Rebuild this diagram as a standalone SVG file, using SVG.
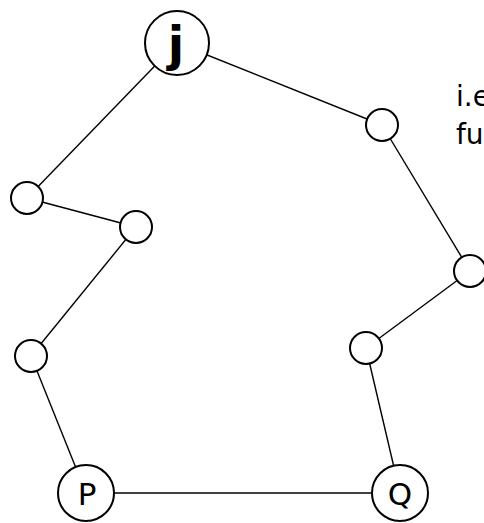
<svg xmlns="http://www.w3.org/2000/svg" width="484" height="523" viewBox="0 0 484 523">
<style>
.n{fill:#fff;stroke:#000;stroke-width:2}
.e{stroke:#000;stroke-width:1.4;fill:none}
.l{font-family:"DejaVu Sans","Liberation Sans",sans-serif;fill:#000;text-anchor:middle}
.t{font-family:"DejaVu Sans","Liberation Sans",sans-serif;fill:#000;font-size:28px}
</style>
<rect width="484" height="523" fill="#fff"/>
<g id="connectors">
<line class="e" x1="177" y1="43" x2="27" y2="198"/>
<line class="e" x1="177" y1="43" x2="382" y2="125"/>
<line class="e" x1="27" y1="198" x2="136" y2="227"/>
<line class="e" x1="136" y1="227" x2="31" y2="356"/>
<line class="e" x1="31" y1="356" x2="86" y2="493"/>
<line class="e" x1="86" y1="493" x2="400" y2="493"/>
<line class="e" x1="400" y1="493" x2="366" y2="348"/>
<line class="e" x1="366" y1="348" x2="470" y2="271"/>
<line class="e" x1="470" y1="271" x2="382" y2="125"/>
</g>
<g id="node-j"><circle class="n" cx="177" cy="43" r="32"/><text class="l" x="176" y="61" font-size="48" font-weight="600">j</text></g>
<g id="node-a"><circle class="n" cx="382" cy="125" r="16"/></g>
<g id="node-b"><circle class="n" cx="27" cy="198" r="16"/></g>
<g id="node-c"><circle class="n" cx="136" cy="227" r="16"/></g>
<g id="node-d"><circle class="n" cx="470" cy="271" r="16"/></g>
<g id="node-e"><circle class="n" cx="31" cy="356" r="16"/></g>
<g id="node-f"><circle class="n" cx="366" cy="348" r="16"/></g>
<g id="node-P"><circle class="n" cx="86" cy="493" r="28"/><text class="l" x="87" y="505" font-size="31">P</text></g>
<g id="node-Q"><circle class="n" cx="400" cy="493" r="28"/><text class="l" x="400" y="505" font-size="31">Q</text></g>
<g id="note"><text class="t" x="456" y="106">i.e</text><text class="t" x="456" y="144">fu</text></g>
</svg>
